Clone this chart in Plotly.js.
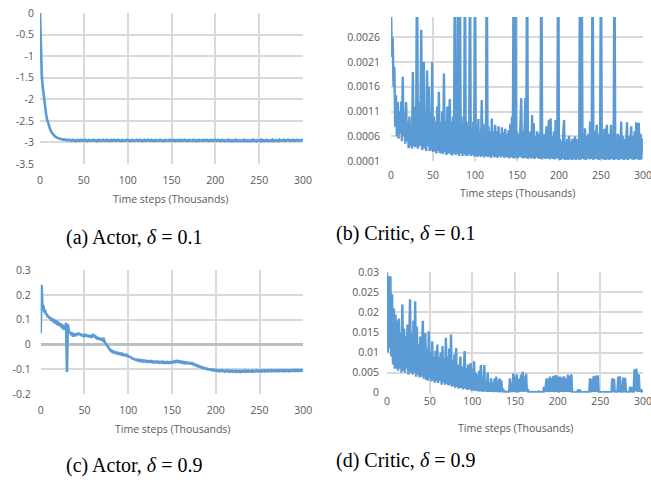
<!DOCTYPE html>
<html>
<head>
<meta charset="utf-8">
<script src="https://cdn.plot.ly/plotly-3.0.1.min.js"></script>
<style>html,body{margin:0;padding:0;background:#fff;}#chart{width:651px;height:489px;}</style>
</head>
<body>
<div id="chart"></div>
<script>
const actorDelta01 = [
 0,-1.05,-1.43,-1.70,-1.90,-2.07,-2.22,-2.35,-2.46,-2.54,
 -2.61,-2.67,-2.72,-2.76,-2.79,-2.82,-2.84,-2.86,-2.87,-2.89,
 -2.90,-2.91,-2.91,-2.92,-2.92,-2.93,-2.93,-2.94,-2.93,-2.94,
 -2.94,-2.95,-2.94,-2.95,-2.94,-2.95,-2.96,-2.95,-2.94,-2.96,
 -2.95,-2.97,-2.95,-2.94,-2.96,-2.95,-2.96,-2.94,-2.95,-2.96,
 -2.95,-2.94,-2.96,-2.95,-2.97,-2.95,-2.94,-2.96,-2.95,-2.95,
 -2.96,-2.94,-2.95,-2.96,-2.95,-2.97,-2.95,-2.94,-2.96,-2.95,
 -2.95,-2.96,-2.94,-2.95,-2.96,-2.95,-2.94,-2.96,-2.95,-2.97,
 -2.95,-2.94,-2.96,-2.95,-2.96,-2.94,-2.95,-2.96,-2.95,-2.94,
 -2.96,-2.95,-2.97,-2.95,-2.94,-2.96,-2.95,-2.95,-2.96,-2.94,
 -2.95,-2.96,-2.95,-2.97,-2.95,-2.94,-2.96,-2.95,-2.95,-2.96,
 -2.94,-2.95,-2.96,-2.95,-2.94,-2.96,-2.95,-2.97,-2.95,-2.94,
 -2.96,-2.95,-2.96,-2.94,-2.95,-2.96,-2.95,-2.94,-2.96,-2.95,
 -2.97,-2.95,-2.94,-2.96,-2.95,-2.95,-2.96,-2.94,-2.95,-2.96,
 -2.95,-2.97,-2.95,-2.94,-2.96,-2.95,-2.95,-2.96,-2.94,-2.95,
 -2.96,-2.95,-2.94,-2.96,-2.95,-2.97,-2.95,-2.94,-2.96,-2.95,
 -2.96,-2.94,-2.95,-2.96,-2.95,-2.94,-2.96,-2.95,-2.97,-2.95,
 -2.94,-2.96,-2.95,-2.95,-2.96,-2.94,-2.95,-2.96,-2.95,-2.97,
 -2.95,-2.94,-2.96,-2.95,-2.95,-2.96,-2.94,-2.95,-2.96,-2.95,
 -2.94,-2.96,-2.95,-2.97,-2.95,-2.94,-2.96,-2.95,-2.96,-2.94,
 -2.95,-2.96,-2.95,-2.94,-2.96,-2.95,-2.97,-2.96,-2.94,-2.96,
 -2.95,-2.97,-2.96,-2.95,-2.96,-2.94,-2.97,-2.96,-2.95,-2.97,
 -2.95,-2.96,-2.97,-2.94,-2.96,-2.95,-2.97,-2.96,-2.95,-2.96,
 -2.97,-2.95,-2.96,-2.94,-2.97,-2.96,-2.95,-2.97,-2.95,-2.96,
 -2.97,-2.95,-2.96,-2.94,-2.97,-2.96,-2.95,-2.97,-2.95,-2.96,
 -2.96,-2.95,-2.97,-2.94,-2.96,-2.95,-2.97,-2.96,-2.94,-2.96,
 -2.95,-2.97,-2.96,-2.95,-2.96,-2.94,-2.97,-2.96,-2.95,-2.96,
 -2.95,-2.96,-2.97,-2.94,-2.96,-2.95,-2.96,-2.96,-2.94,-2.96,
 -2.95,-2.96,-2.95,-2.94,-2.96,-2.95,-2.96,-2.95,-2.94,-2.96,
 -2.95,-2.96,-2.95,-2.94,-2.96,-2.95,-2.96,-2.95,-2.94,-2.95,
 -2.95
];

const criticDelta01 = [
 0.0032,0.0022,0.0026,0.0016,0.0020,0.00080,0.00143,0.00060,0.00129,0.00055,
 0.00110,0.00065,0.00130,0.00050,0.00180,0.00060,0.00110,0.00045,0.00129,0.00050,
 0.00090,0.00036,0.00100,0.00040,0.00080,0.00035,0.00190,0.00040,0.00120,0.00038,
 0.00100,0.0045,0.00035,0.00130,0.00040,0.00110,0.00275,0.00032,0.00120,0.00210,
 0.00035,0.00100,0.00030,0.00193,0.00040,0.00160,0.00030,0.00110,0.00032,0.00210,
 0.00028,0.00100,0.00030,0.00090,0.00025,0.00120,0.00030,0.00150,0.00026,0.00090,
 0.00025,0.00110,0.00024,0.00187,0.00028,0.00090,0.00022,0.00120,0.00025,0.00080,
 0.00135,0.00023,0.00090,0.00021,0.00100,0.00025,0.0045,0.00022,0.00090,0.00024,
 0.0045,0.00020,0.0045,0.00025,0.00100,0.00020,0.00085,0.00023,0.0045,0.00021,
 0.00090,0.00020,0.00080,0.00024,0.0045,0.00020,0.00075,0.00022,0.00090,0.00019,
 0.0045,0.00020,0.00080,0.00018,0.00095,0.00021,0.00070,0.00018,0.00133,0.00020,
 0.00085,0.00017,0.00075,0.00020,0.0045,0.00018,0.00080,0.00019,0.00070,0.00016,
 0.00096,0.00020,0.00070,0.00017,0.00083,0.00018,0.00070,0.00016,0.00080,0.00020,
 0.00065,0.00017,0.00078,0.00019,0.00068,0.00016,0.00075,0.00018,0.00065,0.00017,
 0.00072,0.00015,0.00085,0.00018,0.00100,0.00016,0.0045,0.00015,0.0045,0.00017,
 0.00070,0.00015,0.00065,0.00018,0.00080,0.00137,0.00016,0.00070,0.00015,0.00090,
 0.00137,0.00016,0.0045,0.00014,0.00065,0.00017,0.00070,0.00015,0.00103,0.00016,
 0.00086,0.00014,0.00060,0.00017,0.00070,0.00015,0.00065,0.00014,0.00070,0.0045,
 0.00013,0.00060,0.00016,0.00065,0.00014,0.00080,0.00015,0.00065,0.00093,0.00013,
 0.00096,0.00015,0.00060,0.00014,0.00070,0.00013,0.00093,0.00015,0.00060,0.0045,
 0.00013,0.00055,0.00012,0.00050,0.00014,0.00065,0.00093,0.00012,0.00050,0.00013,
 0.00055,0.00012,0.00061,0.00014,0.00050,0.00012,0.00055,0.00013,0.00045,0.00060,
 0.00012,0.00055,0.00014,0.00050,0.00012,0.0045,0.00013,0.0045,0.00014,0.00060,
 0.00013,0.00076,0.00012,0.00060,0.00015,0.00065,0.00013,0.00090,0.00014,0.00060,
 0.0045,0.00012,0.00070,0.00014,0.00060,0.00083,0.00013,0.00065,0.00012,0.00070,
 0.0045,0.00014,0.00060,0.00013,0.00075,0.00012,0.00060,0.00083,0.00013,0.00065,
 0.00012,0.00070,0.00083,0.00014,0.00060,0.00012,0.0045,0.00013,0.00055,0.00014,
 0.00065,0.00012,0.00060,0.00013,0.00090,0.00014,0.00060,0.00012,0.00055,0.00013,
 0.00070,0.00088,0.00012,0.00060,0.00014,0.00055,0.00080,0.00013,0.00060,0.00012,
 0.00070,0.00014,0.00088,0.00013,0.00060,0.00087,0.00012,0.00065,0.00013,0.00055,
 0.00046
];

const actorDelta09 = [
 0.045,0.24,0.15,0.16,0.13,0.14,0.12,0.125,0.11,0.115,
 0.105,0.11,0.10,0.102,0.095,0.098,0.09,0.093,0.086,0.09,
 0.082,0.085,0.078,0.08,0.072,0.076,0.066,0.07,0.06,0.088,
 -0.11,0.082,0.06,0.045,0.05,0.038,0.042,0.032,0.045,0.04,
 0.035,0.045,0.038,0.048,0.04,0.045,0.035,0.042,0.032,0.04,
 0.035,0.042,0.034,0.04,0.03,0.037,0.03,0.038,0.028,0.035,
 0.042,0.032,0.038,0.025,0.032,0.02,0.028,0.02,0.026,0.018,
 0.025,0.018,0.022,0.012,0.008,0.0,-0.005,-0.012,-0.015,-0.02,
 -0.025,-0.024,-0.03,-0.028,-0.032,-0.03,-0.034,-0.032,-0.036,-0.034,
 -0.038,-0.036,-0.04,-0.037,-0.042,-0.04,-0.043,-0.041,-0.045,-0.043,
 -0.047,-0.048,-0.052,-0.051,-0.055,-0.056,-0.059,-0.058,-0.062,-0.06,
 -0.063,-0.061,-0.065,-0.062,-0.066,-0.063,-0.067,-0.064,-0.068,-0.065,
 -0.068,-0.066,-0.07,-0.067,-0.069,-0.066,-0.07,-0.067,-0.071,-0.068,
 -0.072,-0.069,-0.071,-0.068,-0.072,-0.069,-0.073,-0.07,-0.072,-0.069,
 -0.073,-0.07,-0.074,-0.071,-0.073,-0.07,-0.074,-0.071,-0.073,-0.07,
 -0.072,-0.069,-0.071,-0.067,-0.07,-0.066,-0.069,-0.066,-0.07,-0.068,
 -0.072,-0.069,-0.073,-0.07,-0.074,-0.071,-0.075,-0.072,-0.075,-0.073,
 -0.076,-0.074,-0.077,-0.075,-0.079,-0.078,-0.082,-0.081,-0.085,-0.084,
 -0.088,-0.087,-0.09,-0.089,-0.093,-0.092,-0.095,-0.094,-0.097,-0.096,
 -0.099,-0.098,-0.10,-0.099,-0.102,-0.10,-0.103,-0.101,-0.104,-0.102,
 -0.105,-0.103,-0.106,-0.104,-0.107,-0.104,-0.106,-0.103,-0.107,-0.105,
 -0.108,-0.105,-0.107,-0.104,-0.108,-0.106,-0.109,-0.105,-0.108,-0.106,
 -0.109,-0.106,-0.108,-0.105,-0.11,-0.107,-0.109,-0.106,-0.11,-0.107,
 -0.109,-0.106,-0.108,-0.105,-0.109,-0.106,-0.108,-0.105,-0.109,-0.107,
 -0.108,-0.105,-0.109,-0.106,-0.108,-0.105,-0.107,-0.104,-0.108,-0.106,
 -0.107,-0.104,-0.108,-0.105,-0.107,-0.104,-0.108,-0.105,-0.107,-0.104,
 -0.107,-0.104,-0.106,-0.103,-0.107,-0.104,-0.106,-0.104,-0.107,-0.104,
 -0.106,-0.103,-0.107,-0.104,-0.106,-0.103,-0.106,-0.104,-0.107,-0.104,
 -0.106,-0.103,-0.106,-0.104,-0.107,-0.104,-0.106,-0.103,-0.105,-0.103,
 -0.106,-0.103,-0.105,-0.102,-0.106,-0.103,-0.105,-0.102,-0.105,-0.103,
 -0.104
];

const criticDelta09 = [
 0.030,0.010,0.029,0.011,0.029,0.009,0.0245,0.007,0.021,0.006,
 0.0195,0.006,0.018,0.0055,0.0185,0.006,0.015,0.005,0.022,0.0055,
 0.016,0.005,0.014,0.006,0.017,0.0045,0.013,0.0233,0.005,0.015,
 0.0045,0.018,0.005,0.0228,0.004,0.0165,0.0045,0.012,0.0038,0.014,
 0.004,0.011,0.0179,0.0035,0.012,0.0148,0.0032,0.011,0.003,0.0153,
 0.0035,0.010,0.0028,0.0128,0.003,0.009,0.0025,0.0105,0.0028,0.012,
 0.0024,0.009,0.003,0.010,0.002,0.0116,0.0025,0.0085,0.002,0.0137,
 0.0022,0.009,0.0018,0.011,0.002,0.0145,0.0015,0.008,0.0017,0.0095,
 0.0012,0.0111,0.0015,0.007,0.001,0.008,0.009,0.0012,0.0065,0.0008,
 0.0075,0.0104,0.001,0.006,0.0007,0.007,0.0008,0.0055,0.0074,0.0005,
 0.006,0.0006,0.0078,0.0004,0.005,0.0005,0.0045,0.0003,0.0055,0.0003,
 0.0069,0.0003,0.004,0.0002,0.0069,0.0003,0.003,0.0002,0.005,0.0002,
 0.0025,0.0002,0.0036,0.0002,0.0025,0.0001,0.0035,0.0002,0.004,0.0001,
 0.003,0.0001,0.0036,0.0001,0.0031,0.0001,0.001,0.0001,0.0003,0.0001,
 0.0002,0.0001,0.0003,0.0001,0.0036,0.0001,0.0025,0.0001,0.0048,0.0002,
 0.004,0.0002,0.0046,0.0002,0.0003,0.0035,0.0002,0.0045,0.0003,0.0052,
 0.0002,0.004,0.0003,0.0048,0.0002,0.0009,0.0001,0.0001,0.00005,0.0002,
 0.0001,0.00005,0.0001,0.0002,0.0001,0.00005,0.0001,0.0002,0.0003,0.0001,
 0.00005,0.0001,0.0002,0.0001,0.0015,0.0001,0.0015,0.0036,0.0002,0.0035,
 0.0001,0.004,0.0002,0.0036,0.0002,0.0042,0.0001,0.0035,0.0044,0.0002,
 0.004,0.0001,0.0003,0.004,0.0002,0.0038,0.0001,0.004,0.0036,0.0002,
 0.0036,0.0002,0.0045,0.0001,0.0042,0.0002,0.0046,0.0001,0.00005,0.0001,
 0.00005,0.0001,0.0001,0.00005,0.0008,0.0001,0.0008,0.0001,0.00005,0.0001,
 0.0001,0.00005,0.0001,0.0002,0.0001,0.00005,0.0001,0.0001,0.0036,0.0001,
 0.0034,0.0002,0.0041,0.0001,0.0042,0.0002,0.004,0.0042,0.0001,0.0001,
 0.00005,0.0001,0.0002,0.0001,0.00005,0.0001,0.0001,0.00005,0.0001,0.0002,
 0.0001,0.00005,0.0001,0.0001,0.0036,0.0002,0.0035,0.0001,0.0001,0.00005,
 0.0001,0.004,0.0001,0.0041,0.0002,0.0001,0.0001,0.0038,0.0001,0.0037,
 0.0001,0.0001,0.00005,0.0001,0.0001,0.0015,0.0001,0.0014,0.0001,0.0001,
 0.0058,0.0003,0.006,0.0045,0.0002,0.0046,0.0005,0.0004,0.0006,0.0003,
 0.0005
];

const xTickVals = [0, 50, 100, 150, 200, 250, 300];
const xTickText = ['0', '50', '100', '150', '200', '250', '300'];
const yTickValsA = [0, -0.5, -1, -1.5, -2, -2.5, -3, -3.5];
const yTickTextA = ['0', '-0.5', '-1', '-1.5', '-2', '-2.5', '-3', '-3.5'];
const yTickValsB = [0.0001, 0.0006, 0.0011, 0.0016, 0.0021, 0.0026];
const yTickTextB = ['0.0001', '0.0006', '0.0011', '0.0016', '0.0021', '0.0026'];
const yTickValsC = [0.3, 0.2, 0.1, 0, -0.1, -0.2];
const yTickTextC = ['0.3', '0.2', '0.1', '0', '-0.1', '-0.2'];
const yTickValsD = [0, 0.005, 0.01, 0.015, 0.02, 0.025, 0.03];
const yTickTextD = ['0', '0.005', '0.01', '0.015', '0.02', '0.025', '0.03'];
const xTitle = 'Time steps (Thousands)';
const captions = ['(a) Actor, <i>δ</i> = 0.1', '(b) Critic, <i>δ</i> = 0.1',
                  '(c) Actor, <i>δ</i> = 0.9', '(d) Critic, <i>δ</i> = 0.9'];

const W = 651, H = 489;
const fx = px => px / W;
const fy = py => 1 - py / H;
const blue = '#5b9bd5';
const grid = '#d9d9d9';
const tickFont = {family: 'Open Sans, sans-serif', size: 10.5, color: '#595959'};

function xAxis(l, r, anchor, standoff, extra) {
  return Object.assign({domain: [fx(l), fx(r)], anchor: anchor, range: [0, 300], tickmode: 'array',
    tickvals: xTickVals, ticktext: xTickText,
    showgrid: true, gridcolor: grid, gridwidth: 2, zeroline: false,
    ticks: '', tickfont: tickFont, ticklabelstandoff: standoff, ticklabeloverflow: 'allow'}, extra || {});
}
function yAxis(b, t, anchor, range, vals, text, standoff, extra) {
  return Object.assign({domain: [fy(b), fy(t)], anchor: anchor, range: range, tickmode: 'array',
    tickvals: vals, ticktext: text,
    showgrid: true, gridcolor: grid, gridwidth: 2, zeroline: false,
    ticks: '', tickfont: tickFont, ticklabelstandoff: standoff}, extra || {});
}

const traces = [
  {y: actorDelta01, x0: 0, dx: 1, type: 'scatter', mode: 'lines', xaxis: 'x', yaxis: 'y',
   line: {color: blue, width: 2.6}},
  {y: criticDelta01, x0: 0, dx: 1, type: 'scatter', mode: 'lines', xaxis: 'x2', yaxis: 'y2',
   line: {color: blue, width: 2.4}},
  {y: actorDelta09, x0: 0, dx: 1, type: 'scatter', mode: 'lines', xaxis: 'x3', yaxis: 'y3',
   line: {color: blue, width: 2.6}},
  {y: criticDelta09, x0: 0, dx: 1, type: 'scatter', mode: 'lines', xaxis: 'x4', yaxis: 'y4',
   line: {color: blue, width: 2.4}}
];

function ann(text, px, py, font) {
  return {text: text, xref: 'paper', yref: 'paper', x: fx(px), y: fy(py), xanchor: 'center', yanchor: 'middle',
          showarrow: false, font: font};
}
const titleFont = {family: 'Open Sans, sans-serif', size: 10.5, color: '#595959'};
const capFont = {family: 'Liberation Serif, Times New Roman, serif', size: 20, color: '#000'};

const layout = {
  width: W, height: H, margin: {l: 0, r: 0, t: 0, b: 0},
  paper_bgcolor: '#fff', plot_bgcolor: '#fff', showlegend: false, hovermode: false,
  xaxis: xAxis(40, 303, 'y', 8),
  yaxis: yAxis(164, 13, 'x', [-3.5, 0], yTickValsA, yTickTextA, 5),
  xaxis2: xAxis(391, 643, 'y2', 6),
  yaxis2: yAxis(161, 17, 'x2', [0.0001, 0.00301], yTickValsB, yTickTextB, 10),
  xaxis3: xAxis(40.7, 303.3, 'y3', 8),
  yaxis3: yAxis(394.3, 270, 'x3', [-0.2, 0.3], yTickValsC, yTickTextC, 9,
                {zeroline: true, zerolinecolor: '#bfbfbf', zerolinewidth: 2.5}),
  xaxis4: xAxis(387, 643, 'y4', 1),
  yaxis4: yAxis(392.7, 272.3, 'x4', [0, 0.03], yTickValsD, yTickTextD, 7),
  annotations: [
    ann(xTitle, 171, 199, titleFont),
    ann(xTitle, 517, 193, titleFont),
    ann(xTitle, 172, 429, titleFont),
    ann(xTitle, 515, 428, titleFont),
    ann(captions[0], 133.5, 237, capFont),
    ann(captions[1], 405.5, 233, capFont),
    ann(captions[2], 133.5, 465, capFont),
    ann(captions[3], 405.5, 460, capFont)
  ]
};

Plotly.newPlot('chart', traces, layout, {displayModeBar: false});
</script>
</body>
</html>
